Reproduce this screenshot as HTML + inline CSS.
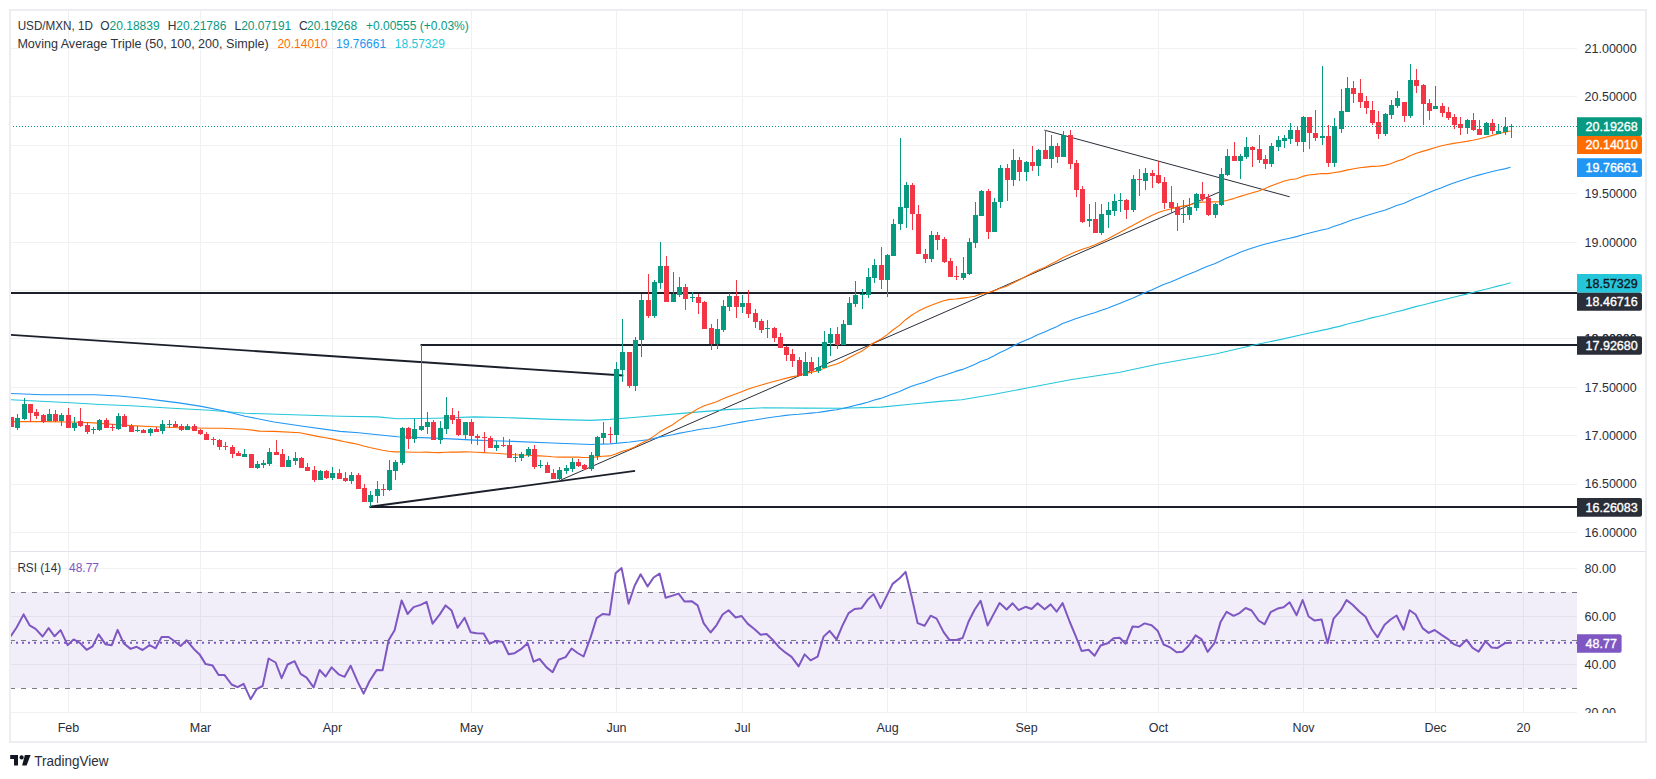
<!DOCTYPE html>
<html><head><meta charset="utf-8"><title>USD/MXN chart</title>
<style>
html,body{margin:0;padding:0;background:#fff;width:1656px;height:779px;overflow:hidden}
svg{display:block}
text{font-family:"Liberation Sans",sans-serif}
</style></head><body>
<svg width="1656" height="779" viewBox="0 0 1656 779">
<defs>
<clipPath id="cm"><rect x="11" y="11" width="1566" height="540"/></clipPath>
<clipPath id="cr"><rect x="11" y="552" width="1566" height="161"/></clipPath>
<clipPath id="ca"><rect x="1577" y="552" width="68" height="161"/></clipPath>
</defs>
<rect x="0" y="0" width="1656" height="779" fill="#fff"/>
<path d="M68.5 11V551M68.5 552V713M200.5 11V551M200.5 552V713M332.5 11V551M332.5 552V713M471.5 11V551M471.5 552V713M616.5 11V551M616.5 552V713M742.5 11V551M742.5 552V713M887.5 11V551M887.5 552V713M1026.5 11V551M1026.5 552V713M1158.5 11V551M1158.5 552V713M1303.5 11V551M1303.5 552V713M1435.5 11V551M1435.5 552V713M1523.5 11V551M1523.5 552V713M11 532.5H1577M11 484.5H1577M11 435.5H1577M11 387.5H1577M11 338.5H1577M11 290.5H1577M11 242.5H1577M11 193.5H1577M11 145.5H1577M11 96.5H1577M11 48.5H1577M11 568.5H1577M11 616.5H1577M11 664.5H1577M11 712.5H1577" stroke="#F0F1F3" stroke-width="1" fill="none"/>
<rect x="11" y="592" width="1566" height="96" fill="#7E57C2" fill-opacity="0.1"/>
<g clip-path="url(#cr)"><path d="M10 592.5H1577M10 688.5H1577M10 640.5H1577" stroke="#787B86" stroke-width="1" stroke-dasharray="5 6" fill="none"/></g>
<rect x="11" y="551" width="1634" height="1" fill="#E0E3EB"/>
<rect x="10" y="10" width="1636" height="732" fill="none" stroke="#ECEEF2" stroke-width="2"/>
<g clip-path="url(#cm)">
<path d="M11 293H1577M420.5 345H1577M369.5 507H1577" stroke="#1B1F2A" stroke-width="2" fill="none"/>
<path d="M-20 332.8L623.4 375.5M369.8 506.8L635.1 470.9" stroke="#1B1F2A" stroke-width="1.9" fill="none"/>
<path d="M561.1 479.9L1221 191.3M1044.3 130.1L1289.7 196.8" stroke="#2A2E39" stroke-width="1" fill="none"/>
<path d="M8.0 399.6 L70.4 402.7 L100.0 404.5 L130.8 405.7 L172.5 408.2 L210.0 410.3 L245.0 413.3 L340.0 416.2 L378.0 416.9 L397.3 418.8 L436.0 418.2 L474.6 416.9 L513.0 417.9 L552.0 419.4 L590.5 420.4 L610.0 419.4 L630.0 417.7 L688.0 412.9 L726.6 409.6 L765.3 407.7 L804.0 408.1 L842.6 408.3 L881.2 407.1 L910.2 404.2 L940.0 401.4 L961.7 399.8 L994.3 394.3 L1027.0 388.0 L1070.4 379.7 L1120.0 372.2 L1158.6 364.0 L1216.6 353.8 L1255.3 344.7 L1280.0 339.6 L1303.7 334.3 L1321.6 330.4 L1327.6 329.1 L1333.6 327.6 L1340.6 326.1 L1346.6 324.3 L1352.6 322.7 L1359.6 321.1 L1365.6 319.5 L1371.6 317.9 L1377.6 316.5 L1384.6 315.0 L1390.6 313.3 L1396.6 311.7 L1403.6 310.1 L1409.6 308.4 L1415.6 306.6 L1422.6 305.0 L1428.6 303.5 L1434.6 301.9 L1441.6 300.3 L1447.6 298.7 L1453.6 297.2 L1459.6 295.7 L1466.6 294.1 L1472.6 292.5 L1478.6 291.0 L1485.6 289.3 L1491.6 287.7 L1497.6 286.1 L1504.6 284.5 L1510.6 282.8" stroke="#26C6DA" stroke-width="1.1" fill="none" stroke-linejoin="round"/>
<path d="M8.0 393.3 L42.6 394.8 L94.5 394.8 L118.7 396.0 L142.8 398.2 L161.0 400.6 L179.0 402.9 L201.4 406.4 L201.4 406.4 L223.2 410.8 L245.0 416.2 L274.0 422.0 L303.0 426.3 L340.0 431.4 L358.6 432.8 L397.3 436.8 L436.0 438.1 L474.6 440.1 L513.0 441.4 L552.0 443.0 L590.5 444.5 L610.0 443.9 L630.0 442.0 L647.6 439.8 L653.6 438.6 L659.6 437.1 L665.6 436.0 L672.6 434.7 L678.6 433.4 L684.6 432.2 L691.6 431.0 L697.6 429.8 L703.6 428.8 L710.6 428.0 L716.6 427.0 L722.6 425.8 L728.6 424.5 L735.6 423.3 L741.6 422.1 L747.6 421.0 L754.6 420.0 L760.6 419.0 L766.6 418.0 L773.6 417.0 L779.6 416.2 L785.6 415.4 L791.6 414.8 L798.6 414.3 L804.6 413.7 L810.6 413.1 L817.6 412.5 L823.6 411.6 L829.6 410.6 L836.6 409.7 L842.6 408.5 L848.6 407.1 L854.6 405.5 L861.6 403.9 L867.6 402.2 L873.6 400.3 L880.6 398.4 L886.6 396.3 L892.6 393.9 L899.6 391.5 L905.6 388.8 L911.6 386.2 L917.6 384.2 L924.6 382.2 L930.6 379.9 L936.6 377.6 L943.6 375.4 L949.6 373.4 L955.6 371.4 L962.6 369.4 L968.6 367.1 L974.6 364.4 L980.6 361.6 L987.6 359.0 L993.6 356.0 L999.6 352.7 L1006.6 349.6 L1012.6 346.3 L1018.6 343.3 L1025.6 340.3 L1031.6 337.7 L1037.6 334.8 L1044.6 332.1 L1050.6 329.3 L1056.6 326.7 L1062.6 323.6 L1069.6 321.0 L1075.6 318.7 L1081.6 316.8 L1088.6 314.6 L1094.6 312.7 L1100.6 310.5 L1107.6 308.2 L1113.6 305.8 L1119.6 303.4 L1125.6 301.0 L1132.6 298.3 L1138.6 295.6 L1144.6 292.7 L1151.6 289.9 L1157.6 287.3 L1163.6 284.6 L1170.6 282.1 L1176.6 279.5 L1182.6 276.8 L1188.6 274.2 L1195.6 271.5 L1201.6 268.8 L1207.6 266.3 L1214.6 263.7 L1220.6 260.9 L1226.6 258.1 L1233.6 255.3 L1239.6 252.5 L1245.6 250.3 L1251.6 248.3 L1258.6 246.0 L1264.6 244.3 L1270.6 242.7 L1277.6 241.0 L1283.6 239.5 L1289.6 238.2 L1296.6 236.6 L1302.6 234.8 L1308.6 233.3 L1314.6 231.7 L1321.6 230.0 L1327.6 228.7 L1333.6 226.6 L1340.6 224.3 L1346.6 221.9 L1352.6 219.8 L1359.6 217.8 L1365.6 215.8 L1371.6 214.0 L1377.6 212.2 L1384.6 210.2 L1390.6 207.9 L1396.6 205.6 L1403.6 203.4 L1409.6 200.7 L1415.6 198.0 L1422.6 195.5 L1428.6 192.8 L1434.6 190.3 L1441.6 187.7 L1447.6 185.2 L1453.6 183.0 L1459.6 180.9 L1466.6 178.7 L1472.6 176.7 L1478.6 175.1 L1485.6 173.3 L1491.6 171.7 L1497.6 170.2 L1504.6 168.9 L1510.6 167.3" stroke="#2196F3" stroke-width="1.1" fill="none" stroke-linejoin="round"/>
<path d="M8.0 421.6 L46.0 421.6 L70.4 422.0 L94.5 422.9 L112.7 424.4 L130.8 425.6 L155.0 426.8 L179.0 427.7 L210.0 428.3 L223.0 428.2 L245.0 429.2 L259.4 431.1 L274.0 431.4 L300.0 432.8 L317.4 436.4 L325.6 437.8 L331.6 438.9 L338.6 440.4 L344.6 441.8 L350.6 442.9 L357.6 444.3 L363.6 446.0 L369.6 447.5 L376.6 449.0 L382.6 450.3 L388.6 451.2 L394.6 451.9 L401.6 451.8 L407.6 452.0 L413.6 452.2 L420.6 452.2 L426.6 452.1 L432.6 452.5 L439.6 452.6 L445.6 452.2 L451.6 452.0 L457.6 452.1 L464.6 451.9 L470.6 452.0 L476.6 452.3 L483.6 452.6 L489.6 453.0 L495.6 453.3 L502.6 453.7 L508.6 454.2 L514.6 454.7 L520.6 455.0 L527.6 455.2 L533.6 455.6 L539.6 455.9 L546.6 456.3 L552.6 456.8 L558.6 457.1 L565.6 457.1 L571.6 457.1 L577.6 457.1 L583.6 457.5 L590.6 457.5 L596.6 456.9 L602.6 456.3 L609.6 455.9 L615.6 453.9 L621.6 451.5 L628.6 449.6 L634.6 447.0 L640.6 443.5 L647.6 440.3 L653.6 436.4 L659.6 432.1 L665.6 428.6 L672.6 424.7 L678.6 420.4 L684.6 416.5 L691.6 412.7 L697.6 408.9 L703.6 406.1 L710.6 403.7 L716.6 401.8 L722.6 399.1 L728.6 396.4 L735.6 394.0 L741.6 391.7 L747.6 389.2 L754.6 387.0 L760.6 385.3 L766.6 383.5 L773.6 381.5 L779.6 380.0 L785.6 378.4 L791.6 376.9 L798.6 375.6 L804.6 373.9 L810.6 372.4 L817.6 370.9 L823.6 368.6 L829.6 366.1 L836.6 363.9 L842.6 361.4 L848.6 358.1 L854.6 354.8 L861.6 351.2 L867.6 347.1 L873.6 343.0 L880.6 339.3 L886.6 335.1 L892.6 330.3 L899.6 325.1 L905.6 319.7 L911.6 315.2 L917.6 311.6 L924.6 308.1 L930.6 305.4 L936.6 303.2 L943.6 300.7 L949.6 299.4 L955.6 299.0 L962.6 298.1 L968.6 297.3 L974.6 296.3 L980.6 294.1 L987.6 292.8 L993.6 291.1 L999.6 288.5 L1006.6 286.2 L1012.6 283.3 L1018.6 280.2 L1025.6 276.6 L1031.6 273.3 L1037.6 270.2 L1044.6 267.4 L1050.6 264.2 L1056.6 261.3 L1062.6 257.7 L1069.6 254.6 L1075.6 251.8 L1081.6 249.6 L1088.6 247.3 L1094.6 245.0 L1100.6 242.2 L1107.6 239.1 L1113.6 235.7 L1119.6 232.4 L1125.6 229.2 L1132.6 225.4 L1138.6 222.2 L1144.6 218.9 L1151.6 215.6 L1157.6 212.7 L1163.6 210.7 L1170.6 209.0 L1176.6 207.4 L1182.6 206.1 L1188.6 205.0 L1195.6 203.3 L1201.6 202.1 L1207.6 202.0 L1214.6 201.9 L1220.6 201.7 L1226.6 200.5 L1233.6 198.6 L1239.6 196.6 L1245.6 194.8 L1251.6 193.0 L1258.6 191.0 L1264.6 188.7 L1270.6 186.1 L1277.6 183.4 L1283.6 181.3 L1289.6 179.7 L1296.6 178.7 L1302.6 176.4 L1308.6 175.0 L1314.6 174.4 L1321.6 173.5 L1327.6 173.6 L1333.6 172.7 L1340.6 171.6 L1346.6 170.1 L1352.6 169.0 L1359.6 167.8 L1365.6 167.1 L1371.6 166.4 L1377.6 166.3 L1384.6 165.4 L1390.6 163.7 L1396.6 161.2 L1403.6 159.1 L1409.6 156.1 L1415.6 153.5 L1422.6 151.4 L1428.6 149.6 L1434.6 147.7 L1441.6 145.8 L1447.6 144.5 L1453.6 143.4 L1459.6 142.5 L1466.6 141.4 L1472.6 140.3 L1478.6 139.0 L1485.6 137.3 L1491.6 135.6 L1497.6 133.9 L1504.6 132.3 L1510.6 131.0" stroke="#FF6D00" stroke-width="1.1" fill="none" stroke-linejoin="round"/>
<path d="M17 414h1v16h-1zM24 398h1v22h-1zM49 409h1v12h-1zM61 413h1v13h-1zM74 417h1v14h-1zM93 427h1v7h-1zM99 419h1v12h-1zM118 413h1v17h-1zM137 426h1v6h-1zM150 428h1v8h-1zM162 420h1v14h-1zM169 420h1v8h-1zM187 424h1v6h-1zM244 449h1v8h-1zM257 461h1v8h-1zM263 460h1v8h-1zM269 448h1v18h-1zM288 456h1v11h-1zM295 452h1v13h-1zM320 470h1v10h-1zM332 467h1v13h-1zM351 472h1v12h-1zM370 491h1v16h-1zM377 481h1v22h-1zM389 460h1v31h-1zM395 460h1v20h-1zM402 427h1v38h-1zM414 419h1v24h-1zM421 345h1v86h-1zM427 412h1v22h-1zM440 421h1v23h-1zM446 397h1v37h-1zM465 422h1v17h-1zM496 441h1v10h-1zM515 453h1v9h-1zM521 452h1v9h-1zM528 447h1v10h-1zM540 460h1v8h-1zM559 467h1v14h-1zM566 465h1v9h-1zM572 458h1v14h-1zM591 452h1v19h-1zM597 436h1v24h-1zM603 422h1v22h-1zM616 362h1v81h-1zM622 319h1v63h-1zM635 337h1v54h-1zM641 294h1v63h-1zM654 280h1v38h-1zM660 242h1v47h-1zM673 272h1v30h-1zM679 277h1v20h-1zM692 292h1v10h-1zM717 319h1v30h-1zM723 300h1v32h-1zM729 293h1v18h-1zM742 295h1v18h-1zM767 320h1v18h-1zM805 352h1v24h-1zM818 357h1v16h-1zM824 331h1v37h-1zM830 328h1v28h-1zM843 320h1v25h-1zM849 297h1v28h-1zM855 281h1v26h-1zM862 289h1v20h-1zM868 268h1v30h-1zM874 259h1v24h-1zM887 254h1v43h-1zM893 219h1v37h-1zM900 138h1v92h-1zM906 182h1v46h-1zM931 231h1v31h-1zM963 257h1v23h-1zM969 238h1v37h-1zM975 202h1v46h-1zM981 190h1v26h-1zM994 198h1v34h-1zM1000 165h1v43h-1zM1013 149h1v37h-1zM1026 161h1v20h-1zM1038 149h1v27h-1zM1051 135h1v33h-1zM1063 131h1v26h-1zM1089 204h1v23h-1zM1101 204h1v31h-1zM1108 202h1v26h-1zM1114 194h1v22h-1zM1120 193h1v19h-1zM1133 175h1v37h-1zM1145 168h1v22h-1zM1183 200h1v23h-1zM1189 198h1v22h-1zM1196 193h1v18h-1zM1215 203h1v15h-1zM1221 168h1v38h-1zM1227 149h1v27h-1zM1240 154h1v25h-1zM1246 137h1v22h-1zM1271 143h1v24h-1zM1278 136h1v15h-1zM1284 135h1v13h-1zM1290 123h1v21h-1zM1303 116h1v36h-1zM1322 66h1v79h-1zM1334 118h1v49h-1zM1341 89h1v44h-1zM1347 77h1v35h-1zM1385 113h1v23h-1zM1391 100h1v19h-1zM1397 91h1v17h-1zM1410 64h1v54h-1zM1435 86h1v23h-1zM1467 119h1v15h-1zM1486 122h1v13h-1zM1498 124h1v10h-1zM1505 117h1v18h-1zM1511 124h1v14h-1zM15 418h5v10h-5zM22 404h5v15h-5zM47 414h5v7h-5zM59 415h5v6h-5zM72 423h5v5h-5zM91 429h5v1h-5zM97 420h5v10h-5zM116 416h5v13h-5zM135 430h5v1h-5zM148 429h5v4h-5zM160 424h5v7h-5zM167 424h5v1h-5zM185 426h5v4h-5zM242 454h5v3h-5zM255 464h5v4h-5zM261 463h5v2h-5zM267 452h5v12h-5zM286 460h5v7h-5zM293 458h5v3h-5zM318 471h5v9h-5zM330 473h5v5h-5zM349 475h5v6h-5zM368 495h5v7h-5zM375 489h5v7h-5zM387 470h5v20h-5zM393 462h5v9h-5zM400 428h5v35h-5zM412 429h5v10h-5zM419 426h5v4h-5zM425 422h5v5h-5zM438 428h5v12h-5zM444 415h5v14h-5zM463 422h5v13h-5zM494 445h5v3h-5zM513 457h5v1h-5zM519 454h5v4h-5zM526 449h5v6h-5zM538 465h5v1h-5zM557 470h5v9h-5zM564 468h5v3h-5zM570 462h5v7h-5zM589 455h5v14h-5zM595 437h5v19h-5zM601 433h5v5h-5zM614 369h5v66h-5zM620 352h5v18h-5zM633 340h5v46h-5zM639 300h5v40h-5zM652 282h5v34h-5zM658 266h5v17h-5zM671 294h5v8h-5zM677 287h5v8h-5zM690 297h5v1h-5zM715 329h5v15h-5zM721 306h5v24h-5zM727 296h5v11h-5zM740 303h5v4h-5zM765 328h5v1h-5zM803 362h5v14h-5zM816 367h5v4h-5zM822 342h5v26h-5zM828 334h5v9h-5zM841 324h5v21h-5zM847 303h5v22h-5zM853 295h5v9h-5zM860 294h5v1h-5zM866 277h5v18h-5zM872 265h5v13h-5zM885 255h5v25h-5zM891 224h5v32h-5zM898 207h5v17h-5zM904 185h5v23h-5zM929 235h5v24h-5zM961 273h5v5h-5zM967 242h5v32h-5zM973 215h5v28h-5zM979 191h5v25h-5zM992 202h5v30h-5zM998 168h5v34h-5zM1011 160h5v20h-5zM1024 162h5v10h-5zM1036 150h5v16h-5zM1049 146h5v13h-5zM1061 135h5v22h-5zM1087 219h5v2h-5zM1099 214h5v19h-5zM1106 210h5v5h-5zM1112 201h5v10h-5zM1118 200h5v1h-5zM1131 179h5v31h-5zM1143 173h5v8h-5zM1181 214h5v1h-5zM1187 207h5v8h-5zM1194 194h5v14h-5zM1213 204h5v11h-5zM1219 174h5v31h-5zM1225 156h5v19h-5zM1238 156h5v5h-5zM1244 147h5v10h-5zM1269 146h5v18h-5zM1276 140h5v7h-5zM1282 138h5v3h-5zM1288 130h5v9h-5zM1301 117h5v25h-5zM1320 136h5v2h-5zM1332 126h5v37h-5zM1339 111h5v18h-5zM1345 88h5v24h-5zM1383 114h5v20h-5zM1389 105h5v10h-5zM1395 98h5v8h-5zM1408 80h5v36h-5zM1433 106h5v3h-5zM1465 120h5v8h-5zM1484 123h5v12h-5zM1496 131h5v3h-5zM1503 127h5v5h-5zM1509 126h5v1h-5z" fill="#089981" shape-rendering="crispEdges"/>
<path d="M11 417h1v10h-1zM30 404h1v18h-1zM36 409h1v10h-1zM43 414h1v9h-1zM55 410h1v12h-1zM68 408h1v20h-1zM80 408h1v19h-1zM87 422h1v12h-1zM106 418h1v10h-1zM112 424h1v7h-1zM124 414h1v13h-1zM131 424h1v8h-1zM143 429h1v4h-1zM156 427h1v5h-1zM175 421h1v6h-1zM181 424h1v7h-1zM194 424h1v7h-1zM200 429h1v6h-1zM206 432h1v8h-1zM213 437h1v8h-1zM219 439h1v11h-1zM225 442h1v8h-1zM232 445h1v13h-1zM238 451h1v5h-1zM251 454h1v14h-1zM276 440h1v15h-1zM282 449h1v18h-1zM301 457h1v11h-1zM307 463h1v8h-1zM314 466h1v16h-1zM326 470h1v9h-1zM339 469h1v10h-1zM345 472h1v10h-1zM358 473h1v16h-1zM364 484h1v18h-1zM383 484h1v12h-1zM408 427h1v22h-1zM433 420h1v20h-1zM452 408h1v16h-1zM458 411h1v25h-1zM471 419h1v25h-1zM477 434h1v11h-1zM484 432h1v20h-1zM490 436h1v12h-1zM503 437h1v10h-1zM509 439h1v19h-1zM534 445h1v24h-1zM547 462h1v11h-1zM553 469h1v10h-1zM578 459h1v8h-1zM584 464h1v6h-1zM610 427h1v16h-1zM629 352h1v36h-1zM648 274h1v44h-1zM666 256h1v46h-1zM685 284h1v26h-1zM698 294h1v20h-1zM704 301h1v28h-1zM711 324h1v26h-1zM736 280h1v38h-1zM748 290h1v28h-1zM755 309h1v19h-1zM761 319h1v14h-1zM774 327h1v15h-1zM780 333h1v15h-1zM786 346h1v15h-1zM792 349h1v18h-1zM799 357h1v19h-1zM811 357h1v17h-1zM837 327h1v22h-1zM881 247h1v42h-1zM912 183h1v47h-1zM918 205h1v49h-1zM925 249h1v14h-1zM937 232h1v18h-1zM944 237h1v26h-1zM950 258h1v19h-1zM956 266h1v14h-1zM988 189h1v50h-1zM1007 164h1v37h-1zM1019 157h1v24h-1zM1032 146h1v25h-1zM1045 130h1v29h-1zM1057 143h1v20h-1zM1070 130h1v39h-1zM1076 160h1v37h-1zM1082 186h1v37h-1zM1095 202h1v31h-1zM1126 199h1v20h-1zM1139 169h1v27h-1zM1152 170h1v18h-1zM1158 161h1v23h-1zM1164 177h1v32h-1zM1171 186h1v27h-1zM1177 203h1v28h-1zM1202 182h1v19h-1zM1208 194h1v22h-1zM1234 142h1v19h-1zM1252 146h1v21h-1zM1259 135h1v28h-1zM1265 155h1v14h-1zM1297 126h1v20h-1zM1309 117h1v32h-1zM1315 110h1v31h-1zM1328 125h1v42h-1zM1353 81h1v22h-1zM1360 79h1v29h-1zM1366 96h1v18h-1zM1372 101h1v24h-1zM1378 111h1v28h-1zM1404 102h1v20h-1zM1416 69h1v24h-1zM1423 84h1v41h-1zM1429 99h1v21h-1zM1442 103h1v14h-1zM1448 107h1v13h-1zM1454 114h1v15h-1zM1460 117h1v18h-1zM1473 113h1v18h-1zM1479 120h1v15h-1zM1492 119h1v15h-1zM9 417h5v10h-5zM28 404h5v9h-5zM34 412h5v4h-5zM41 415h5v7h-5zM53 414h5v7h-5zM66 415h5v13h-5zM78 421h5v5h-5zM85 425h5v7h-5zM104 420h5v8h-5zM110 427h5v1h-5zM122 416h5v11h-5zM129 426h5v6h-5zM141 430h5v3h-5zM154 429h5v3h-5zM173 424h5v3h-5zM179 426h5v4h-5zM192 426h5v5h-5zM198 430h5v4h-5zM204 434h5v6h-5zM211 439h5v1h-5zM217 440h5v7h-5zM223 446h5v1h-5zM230 447h5v7h-5zM236 453h5v3h-5zM249 454h5v14h-5zM274 452h5v3h-5zM280 454h5v13h-5zM299 458h5v10h-5zM305 467h5v4h-5zM312 470h5v10h-5zM324 471h5v7h-5zM337 473h5v6h-5zM343 478h5v3h-5zM356 475h5v14h-5zM362 488h5v14h-5zM381 489h5v1h-5zM406 428h5v11h-5zM431 422h5v18h-5zM450 415h5v5h-5zM456 419h5v16h-5zM469 422h5v14h-5zM475 436h5v2h-5zM482 437h5v1h-5zM488 438h5v10h-5zM501 445h5v1h-5zM507 445h5v13h-5zM532 449h5v18h-5zM545 465h5v8h-5zM551 473h5v6h-5zM576 462h5v4h-5zM582 465h5v4h-5zM608 434h5v1h-5zM627 352h5v34h-5zM646 300h5v16h-5zM664 266h5v36h-5zM683 287h5v12h-5zM696 297h5v6h-5zM702 302h5v27h-5zM709 328h5v16h-5zM734 296h5v11h-5zM746 303h5v11h-5zM753 313h5v9h-5zM759 321h5v9h-5zM772 328h5v10h-5zM778 337h5v11h-5zM784 347h5v8h-5zM790 354h5v7h-5zM797 360h5v16h-5zM809 362h5v9h-5zM835 334h5v11h-5zM879 265h5v15h-5zM910 185h5v29h-5zM916 214h5v40h-5zM923 254h5v5h-5zM935 235h5v5h-5zM942 239h5v23h-5zM948 261h5v16h-5zM954 276h5v1h-5zM986 191h5v41h-5zM1005 168h5v12h-5zM1017 160h5v12h-5zM1030 162h5v4h-5zM1043 150h5v9h-5zM1055 146h5v11h-5zM1068 135h5v29h-5zM1074 163h5v27h-5zM1080 189h5v33h-5zM1093 219h5v14h-5zM1124 200h5v10h-5zM1137 179h5v1h-5zM1150 173h5v3h-5zM1156 175h5v8h-5zM1162 182h5v21h-5zM1169 202h5v6h-5zM1175 207h5v8h-5zM1200 194h5v5h-5zM1206 198h5v17h-5zM1232 156h5v5h-5zM1250 147h5v3h-5zM1257 149h5v11h-5zM1263 159h5v5h-5zM1295 130h5v12h-5zM1307 117h5v16h-5zM1313 133h5v5h-5zM1326 136h5v27h-5zM1351 88h5v6h-5zM1358 93h5v9h-5zM1364 101h5v7h-5zM1370 110h5v13h-5zM1376 122h5v12h-5zM1402 102h5v14h-5zM1414 80h5v6h-5zM1421 85h5v19h-5zM1427 103h5v8h-5zM1440 106h5v7h-5zM1446 112h5v6h-5zM1452 117h5v8h-5zM1458 124h5v4h-5zM1471 120h5v10h-5zM1477 129h5v6h-5zM1490 123h5v8h-5z" fill="#F23645" shape-rendering="crispEdges"/>
<path d="M10 126.5H1577" stroke="#089981" stroke-width="1" stroke-dasharray="1 2" fill="none"/>
</g>
<g clip-path="url(#cr)">
<path d="M10 642.8H1577" stroke="#7E57C2" stroke-width="2" stroke-dasharray="2 4" fill="none"/>
<path d="M10.6 636.5 L16.6 627.5 L23.6 614.4 L29.6 625.3 L35.6 628.8 L42.6 636.5 L48.6 628.1 L54.6 636.3 L60.6 630.1 L67.6 645.2 L73.6 639.4 L79.6 642.6 L86.6 649.8 L92.6 646.3 L98.6 634.4 L105.6 644.3 L111.6 645.3 L117.6 629.9 L123.6 643.2 L130.6 648.9 L136.6 646.8 L142.6 650.0 L149.6 645.1 L155.6 648.3 L161.6 637.0 L168.6 637.0 L174.6 641.2 L180.6 646.0 L186.6 640.3 L193.6 648.7 L199.6 654.4 L205.6 664.1 L212.6 665.6 L218.6 675.0 L224.6 675.1 L231.6 684.5 L237.6 687.2 L243.6 683.8 L250.6 699.2 L256.6 689.2 L262.6 686.0 L268.6 658.5 L275.6 662.5 L281.6 678.2 L287.6 664.5 L294.6 661.2 L300.6 673.9 L306.6 677.7 L313.6 687.4 L319.6 670.0 L325.6 676.5 L331.6 667.4 L338.6 674.3 L344.6 676.8 L350.6 665.7 L357.6 681.6 L363.6 693.6 L369.6 681.0 L376.6 670.1 L382.6 670.2 L388.6 640.3 L394.6 630.2 L401.6 600.4 L407.6 614.0 L413.6 607.1 L420.6 604.9 L426.6 601.9 L432.6 623.7 L439.6 614.6 L445.6 605.4 L451.6 610.6 L457.6 627.8 L464.6 617.8 L470.6 632.2 L476.6 633.3 L483.6 633.5 L489.6 643.7 L495.6 641.1 L502.6 641.8 L508.6 654.2 L514.6 653.2 L520.6 649.4 L527.6 643.2 L533.6 661.7 L539.6 659.0 L546.6 667.4 L552.6 672.2 L558.6 659.7 L565.6 657.1 L571.6 648.5 L577.6 653.0 L583.6 656.5 L590.6 637.4 L596.6 618.1 L602.6 614.0 L609.6 614.7 L615.6 573.3 L621.6 568.1 L628.6 603.8 L634.6 585.7 L640.6 574.3 L647.6 586.4 L653.6 577.5 L659.6 573.6 L665.6 597.8 L672.6 595.6 L678.6 593.6 L684.6 601.6 L691.6 601.2 L697.6 605.3 L703.6 623.1 L710.6 632.5 L716.6 625.1 L722.6 614.5 L728.6 610.2 L735.6 617.5 L741.6 616.0 L747.6 623.6 L754.6 629.2 L760.6 634.8 L766.6 634.0 L773.6 640.8 L779.6 647.8 L785.6 652.7 L791.6 656.8 L798.6 666.4 L804.6 654.4 L810.6 660.4 L817.6 656.7 L823.6 636.6 L829.6 630.9 L836.6 639.5 L842.6 625.2 L848.6 613.1 L854.6 609.0 L861.6 608.2 L867.6 599.8 L873.6 594.1 L880.6 608.1 L886.6 596.1 L892.6 583.9 L899.6 578.2 L905.6 571.9 L911.6 596.5 L917.6 623.1 L924.6 625.7 L930.6 615.7 L936.6 618.6 L943.6 632.1 L949.6 640.1 L955.6 640.1 L962.6 638.0 L968.6 621.5 L974.6 609.7 L980.6 600.8 L987.6 625.5 L993.6 614.1 L999.6 603.0 L1006.6 609.5 L1012.6 603.3 L1018.6 610.1 L1025.6 606.8 L1031.6 609.0 L1037.6 603.3 L1044.6 609.2 L1050.6 604.4 L1056.6 611.7 L1062.6 603.1 L1069.6 621.5 L1075.6 635.9 L1081.6 651.0 L1088.6 649.7 L1094.6 655.7 L1100.6 645.5 L1107.6 643.3 L1113.6 638.3 L1119.6 637.7 L1125.6 643.7 L1132.6 626.5 L1138.6 627.0 L1144.6 623.4 L1151.6 625.3 L1157.6 630.7 L1163.6 644.5 L1170.6 647.7 L1176.6 652.2 L1182.6 651.8 L1188.6 645.7 L1195.6 635.4 L1201.6 639.3 L1207.6 651.9 L1214.6 642.8 L1220.6 621.9 L1226.6 611.8 L1233.6 615.8 L1239.6 613.1 L1245.6 608.0 L1251.6 610.5 L1258.6 620.5 L1264.6 624.3 L1270.6 612.2 L1277.6 608.6 L1283.6 607.3 L1289.6 602.3 L1296.6 615.2 L1302.6 600.0 L1308.6 616.5 L1314.6 620.6 L1321.6 619.6 L1327.6 643.2 L1333.6 618.6 L1340.6 610.7 L1346.6 600.1 L1352.6 604.7 L1359.6 611.7 L1365.6 616.8 L1371.6 629.0 L1377.6 637.3 L1384.6 624.7 L1390.6 619.5 L1396.6 615.5 L1403.6 629.7 L1409.6 610.3 L1415.6 614.5 L1422.6 628.1 L1428.6 632.9 L1434.6 630.0 L1441.6 634.9 L1447.6 638.8 L1453.6 644.1 L1459.6 646.4 L1466.6 639.8 L1472.6 647.9 L1478.6 651.6 L1485.6 641.1 L1491.6 647.5 L1497.6 647.9 L1504.6 643.3 L1510.6 642.8" stroke="#7E57C2" stroke-width="2" fill="none" stroke-linejoin="round"/>
</g>
<text x="1584.6" y="536.8" font-size="12.5" fill="#2A2E39">16.00000</text>
<text x="1584.6" y="488.4" font-size="12.5" fill="#2A2E39">16.50000</text>
<text x="1584.6" y="440.0" font-size="12.5" fill="#2A2E39">17.00000</text>
<text x="1584.6" y="391.6" font-size="12.5" fill="#2A2E39">17.50000</text>
<text x="1584.6" y="343.2" font-size="12.5" fill="#2A2E39">18.00000</text>
<text x="1584.6" y="246.5" font-size="12.5" fill="#2A2E39">19.00000</text>
<text x="1584.6" y="198.1" font-size="12.5" fill="#2A2E39">19.50000</text>
<text x="1584.6" y="101.3" font-size="12.5" fill="#2A2E39">20.50000</text>
<text x="1584.6" y="52.9" font-size="12.5" fill="#2A2E39">21.00000</text>
<text x="1584.6" y="343.2" font-size="12.5" fill="#2A2E39">18.00000</text>
<path d="M1577 117.2H1640a2 2 0 0 1 2 2V134.0a2 2 0 0 1 -2 2H1577Z" fill="#089981"/>
<text x="1585.6" y="131.0" font-size="12.5" fill="#fff" stroke="#fff" stroke-width="0.35">20.19268</text>
<path d="M1577 136.0H1640a2 2 0 0 1 2 2V152.0a2 2 0 0 1 -2 2H1577Z" fill="#FF6D00"/>
<text x="1585.6" y="149.4" font-size="12.5" fill="#fff" stroke="#fff" stroke-width="0.35">20.14010</text>
<path d="M1577 158.2H1640a2 2 0 0 1 2 2V175.0a2 2 0 0 1 -2 2H1577Z" fill="#2196F3"/>
<text x="1585.6" y="172.0" font-size="12.5" fill="#fff" stroke="#fff" stroke-width="0.35">19.76661</text>
<path d="M1577 274.0H1640a2 2 0 0 1 2 2V290.8a2 2 0 0 1 -2 2H1577Z" fill="#26C6DA"/>
<text x="1585.6" y="287.8" font-size="12.5" fill="#131722" stroke="#131722" stroke-width="0.35">18.57329</text>
<path d="M1577 292.8H1640a2 2 0 0 1 2 2V308.8a2 2 0 0 1 -2 2H1577Z" fill="#2A2E39"/>
<text x="1585.6" y="306.2" font-size="12.5" fill="#fff" stroke="#fff" stroke-width="0.35">18.46716</text>
<path d="M1577 336.3H1640a2 2 0 0 1 2 2V352.8a2 2 0 0 1 -2 2H1577Z" fill="#2A2E39"/>
<text x="1585.6" y="349.9" font-size="12.5" fill="#fff" stroke="#fff" stroke-width="0.35">17.92680</text>
<path d="M1577 498.1H1640a2 2 0 0 1 2 2V514.8a2 2 0 0 1 -2 2H1577Z" fill="#2A2E39"/>
<text x="1585.6" y="511.8" font-size="12.5" fill="#fff" stroke="#fff" stroke-width="0.35">16.26083</text>
<g clip-path="url(#ca)">
<text x="1584.6" y="572.6" font-size="12.5" fill="#2A2E39">80.00</text>
<text x="1584.6" y="620.7" font-size="12.5" fill="#2A2E39">60.00</text>
<text x="1584.6" y="668.8" font-size="12.5" fill="#2A2E39">40.00</text>
<text x="1584.6" y="716.9" font-size="12.5" fill="#2A2E39">20.00</text>
</g>
<path d="M1577 634.2H1619.6a2 2 0 0 1 2 2V650.7a2 2 0 0 1 -2 2H1577Z" fill="#7E57C2"/>
<text x="1585.6" y="647.9" font-size="12.5" fill="#fff" stroke="#fff" stroke-width="0.35">48.77</text>
<text x="57.73" y="731.9" font-size="13" fill="#2A2E39" textLength="21.55" lengthAdjust="spacingAndGlyphs">Feb</text>
<text x="189.74" y="731.9" font-size="13" fill="#2A2E39" textLength="21.53" lengthAdjust="spacingAndGlyphs">Mar</text>
<text x="322.77" y="731.9" font-size="13" fill="#2A2E39" textLength="19.45" lengthAdjust="spacingAndGlyphs">Apr</text>
<text x="459.69" y="731.9" font-size="13" fill="#2A2E39" textLength="23.62" lengthAdjust="spacingAndGlyphs">May</text>
<text x="606.42" y="731.9" font-size="13" fill="#2A2E39" textLength="20.16" lengthAdjust="spacingAndGlyphs">Jun</text>
<text x="734.51" y="731.9" font-size="13" fill="#2A2E39" textLength="15.98" lengthAdjust="spacingAndGlyphs">Jul</text>
<text x="876.38" y="731.9" font-size="13" fill="#2A2E39" textLength="22.25" lengthAdjust="spacingAndGlyphs">Aug</text>
<text x="1015.38" y="731.9" font-size="13" fill="#2A2E39" textLength="22.25" lengthAdjust="spacingAndGlyphs">Sep</text>
<text x="1148.78" y="731.9" font-size="13" fill="#2A2E39" textLength="19.45" lengthAdjust="spacingAndGlyphs">Oct</text>
<text x="1292.38" y="731.9" font-size="13" fill="#2A2E39" textLength="22.23" lengthAdjust="spacingAndGlyphs">Nov</text>
<text x="1424.38" y="731.9" font-size="13" fill="#2A2E39" textLength="22.23" lengthAdjust="spacingAndGlyphs">Dec</text>
<text x="1516.55" y="731.9" font-size="13" fill="#2A2E39" textLength="13.91" lengthAdjust="spacingAndGlyphs">20</text>
<text x="17.7" y="29.8" font-size="12" fill="#2E323D" textLength="75.2" lengthAdjust="spacingAndGlyphs">USD/MXN, 1D</text>
<text x="100.3" y="29.8" font-size="12" fill="#2E323D">O</text>
<text x="109.6" y="29.8" font-size="12" fill="#089981">20.18839</text>
<text x="167.8" y="29.8" font-size="12" fill="#2E323D">H</text>
<text x="176.3" y="29.8" font-size="12" fill="#089981">20.21786</text>
<text x="234.6" y="29.8" font-size="12" fill="#2E323D">L</text>
<text x="241.2" y="29.8" font-size="12" fill="#089981">20.07191</text>
<text x="298.9" y="29.8" font-size="12" fill="#2E323D">C</text>
<text x="307.1" y="29.8" font-size="12" fill="#089981">20.19268</text>
<text x="366.0" y="29.8" font-size="12" fill="#089981">+0.00555 (+0.03%)</text>
<text x="17.4" y="47.8" font-size="12" fill="#2E323D" textLength="251.3" lengthAdjust="spacingAndGlyphs">Moving Average Triple (50, 100, 200, Simple)</text>
<text x="277.4" y="47.8" font-size="12" fill="#FF6D00">20.14010</text>
<text x="336.1" y="47.8" font-size="12" fill="#2196F3">19.76661</text>
<text x="394.8" y="47.8" font-size="12" fill="#26C6DA">18.57329</text>
<text x="17.4" y="572.2" font-size="12" fill="#2E323D" textLength="43.7" lengthAdjust="spacingAndGlyphs">RSI (14)</text>
<text x="69.0" y="572.2" font-size="12" fill="#7E57C2">48.77</text>
<g fill="#131722"><path d="M10.2 755H18V765.6H14V759H10.2Z"/><circle cx="21.6" cy="757.4" r="2.1"/><path d="M24.9 755H30.6L26.6 765.6H22.1Z"/></g>
<text x="34.2" y="765.8" font-size="14" fill="#2A2E39" textLength="74.3" lengthAdjust="spacingAndGlyphs">TradingView</text>
</svg></body></html>
